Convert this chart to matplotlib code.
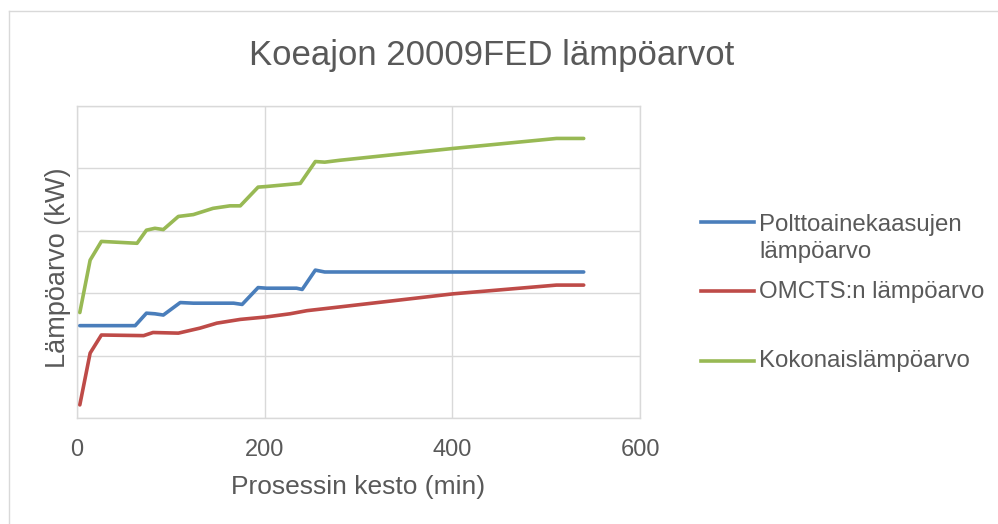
import matplotlib.pyplot as plt
from matplotlib.lines import Line2D

plt.rcParams['font.family'] = ['Liberation Sans', 'DejaVu Sans']

# Polttoainekaasujen lämpöarvo (blue)
t_fuel = [3, 62, 74, 83, 92, 110, 124, 167, 176, 193, 202, 234, 240, 254, 264, 540]
q_fuel = [14.8, 14.8, 16.8, 16.7, 16.5, 18.5, 18.4, 18.4, 18.2, 20.9, 20.8, 20.8, 20.6, 23.7, 23.4, 23.4]

# OMCTS:n lämpöarvo (red)
t_omcts = [3, 14, 26, 71, 81, 108, 131, 149, 174, 202, 227, 245, 280, 401, 511, 540]
q_omcts = [2.1, 10.4, 13.3, 13.2, 13.7, 13.6, 14.4, 15.2, 15.8, 16.2, 16.7, 17.2, 17.8, 19.9, 21.3, 21.3]

# Kokonaislämpöarvo (green)
t_total = [3, 14, 26, 64, 74, 83, 92, 108, 124, 145, 163, 174, 193, 202, 238, 254, 264, 280, 401, 511, 540]
q_total = [16.9, 25.3, 28.3, 28.0, 30.1, 30.4, 30.2, 32.3, 32.6, 33.6, 34.0, 34.0, 37.0, 37.1, 37.6, 41.1, 41.0, 41.3, 43.2, 44.8, 44.8]

labels = ['Polttoainekaasujen\nlämpöarvo', 'OMCTS:n lämpöarvo', 'Kokonaislämpöarvo']
colors = ['#4a7ebb', '#be4b48', '#98b954']
text_c = '#595959'
grid_c = '#d9d9d9'

fig = plt.figure(figsize=(9.98, 5.24), dpi=100)
ax = fig.add_axes([77 / 998, 106 / 524, 563 / 998, 312 / 524])

series = [(t_fuel, q_fuel), (t_omcts, q_omcts), (t_total, q_total)]
for (t, q), c in zip(series, colors):
    ax.plot(t, q, color=c, linewidth=2.6, solid_joinstyle='round', solid_capstyle='round', zorder=3)

ax.set_xlim(0, 600)
ax.set_ylim(0, 50)
ax.set_xticks([0, 200, 400, 600])
ax.set_yticks([0, 10, 20, 30, 40, 50])
ax.set_yticklabels([])
ax.tick_params(length=0, labelsize=17, colors=text_c)
ax.tick_params(axis='x', pad=15)
ax.grid(True, color=grid_c, linewidth=1)
for s in ax.spines.values():
    s.set_color(grid_c)
    s.set_linewidth(1)

ax.set_xlabel('Prosessin kesto (min)', fontsize=19, color=text_c, labelpad=10)
ax.set_ylabel('Lämpöarvo (kW)', fontsize=19.5, color=text_c)
ax.yaxis.set_label_coords(-6 / 563, 0.48)

fig.text(492 / 998, 1 - 65 / 524, 'Koeajon 20009FED lämpöarvot', fontsize=25,
         color=text_c, ha='center', va='baseline')

# legend drawn by hand to mimic Excel spacing
leg_line_y = [222, 291, 361]
leg_base_y = [258, 298, 367]  # baseline of the last text line
for lab, c, y, yb in zip(labels, colors, leg_line_y, leg_base_y):
    fig.add_artist(Line2D([701 / 998, 754 / 998], [1 - y / 524] * 2, color=c, linewidth=2.6,
                          transform=fig.transFigure))
    fig.text(759 / 998, 1 - yb / 524, lab, fontsize=17.3, color=text_c,
             ha='left', va='baseline', linespacing=1.3)

# outer chart border (top and left visible)
fig.add_artist(Line2D([9 / 998, 1], [1 - 11 / 524] * 2, color=grid_c, linewidth=1, transform=fig.transFigure))
fig.add_artist(Line2D([9 / 998] * 2, [0, 1 - 11 / 524], color=grid_c, linewidth=1, transform=fig.transFigure))

fig.savefig('out.png', dpi=100)
